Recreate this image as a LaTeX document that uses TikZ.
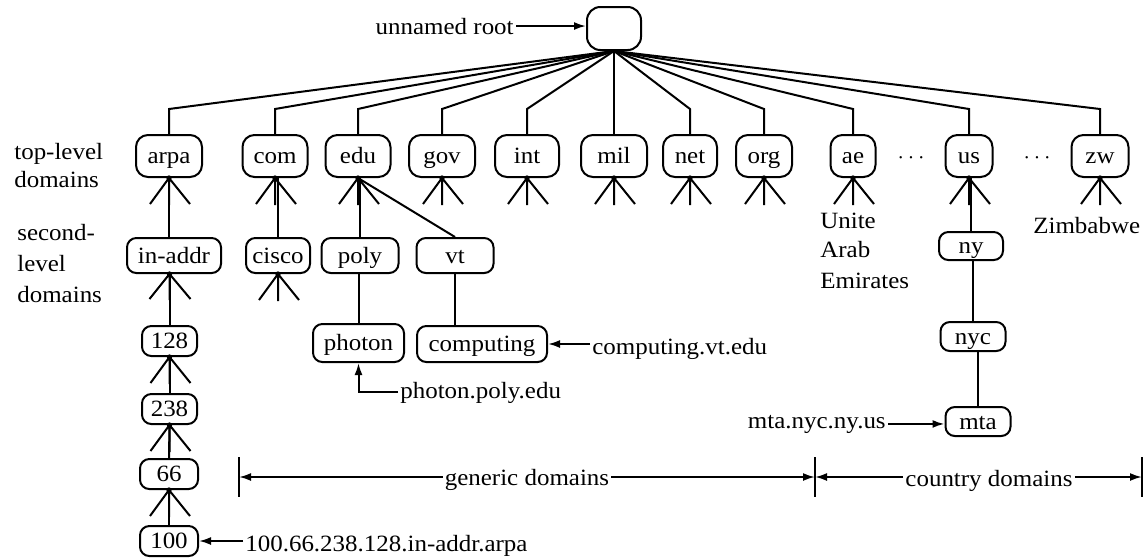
\documentclass[tikz,border=0pt]{standalone}
\usepackage{fontspec}
\setmainfont[FakeStretch=1.07]{Liberation Serif}
\usetikzlibrary{arrows.meta}
\begin{document}
\begin{tikzpicture}[x=0.75pt, y=-0.75pt,
  font=\fontsize{17.5}{21}\selectfont,
  line width=1.5pt,
  bw/.style={minimum width=#1*0.75pt},
  bh/.style={minimum height=#1*0.75pt},
  box/.style={draw, rounded corners=7pt, inner sep=0pt, text height=14.5pt, text depth=3pt},
  tl/.style={box, bh=42, rounded corners=9pt},
  sl/.style={box, bh=35},
  lbl/.style={inner sep=1pt},
  tip/.style={-{Latex[length=9pt,width=6pt]}}]
\useasboundingbox (0,0) rectangle (1146,558);

% root
\node[box, bw=54, bh=43, rounded corners=10pt] (root) at (614,28.5) {};

% top-level domains
\node[tl, bw=66] (arpa) at (169,156) {arpa};
\node[tl, bw=65] (com)  at (275,156) {com};
\node[tl, bw=65] (edu)  at (358,156) {edu};
\node[tl, bw=66] (gov)  at (442,156) {gov};
\node[tl, bw=64] (int)  at (527,156) {int};
\node[tl, bw=66] (mil)  at (614,156) {mil};
\node[tl, bw=54] (net)  at (690,156) {net};
\node[tl, bw=56] (org)  at (764,156) {org};
\node[tl, bw=45] (ae)   at (853,156) {ae};
\node[tl, bw=47] (us)   at (969,156) {us};
\node[tl, bw=57] (zw)   at (1100,156) {zw};

% second-level domains
\node[sl, bw=94] (inaddr) at (174,255.5) {in-addr};
\node[sl, bw=64] (cisco)  at (278,255.5) {cisco};
\node[sl, bw=77] (poly)   at (360,255.5) {poly};
\node[sl, bw=77] (vt)     at (455,255.5) {vt};

% deeper nodes
\node[box, bw=64, bh=28] (ny)  at (971,246) {ny};
\node[box, bw=65, bh=29] (nyc) at (973,336.5) {nyc};
\node[box, bw=65, bh=29] (mta) at (978,421.5) {mta};
\node[box, bw=91, bh=38] (photon)    at (358.5,343) {photon};
\node[box, bw=130, bh=36] (computing) at (482,344) {computing};
\node[box, bw=55, bh=30] (n128) at (169.5,341) {128};
\node[box, bw=55, bh=30] (n238) at (169.5,409) {238};
\node[box, bw=58, bh=30] (n66)  at (169,474) {66};
\node[box, bw=58, bh=30] (n100) at (169,541) {100};

% root connectors
\foreach \n in {arpa,com,edu,gov,int,net,org,ae,us,zw}
  \draw (root.south) -- (\n.north |- 0,109) -- (\n.north);
\draw (root.south) -- (mil.north);

% tree connectors
\draw (arpa.south) -- (arpa.south |- inaddr.north);
\draw (cisco.north) -- (cisco.north |- com.south);
\draw (poly.north) -- (poly.north |- edu.south);
\draw (edu.south) -- (vt.north);
\draw (photon.north) -- (photon.north |- poly.south);
\draw (vt.south) -- (vt.south |- computing.north);
\draw (ny.north) -- (ny.north |- us.south);
\draw (nyc.north) -- (nyc.north |- ny.south);
\draw (mta.north) -- (mta.north |- nyc.south);
\draw (n128.north) -- (n128.north |- inaddr.south);
\draw (n238.north) -- (n128.south);
\draw (n66.north) -- (n238.south);
\draw (n100.north) -- (n66.south);

% fans
\foreach \n in {arpa,com,edu,gov,int,mil,net,org,ae,us,zw,cisco,n128,n238,n66} {
  \draw (\n.south) -- ++(-19,26) (\n.south) -- ++(0,27) (\n.south) -- ++(21,26);
  \fill (\n.south) circle[radius=2pt];
}
\coordinate (fa) at (inaddr.south -| n128.north);
\draw (fa) -- ++(-20,25) (fa) -- ++(0,26) (fa) -- ++(21,25);
\fill (fa) circle[radius=2pt];

% dots
\node[lbl, anchor=base] (dots1) at (911,163) {$\cdots$};
\node[lbl, anchor=base] (dots2) at (1037,163) {$\cdots$};

% left labels
\node[lbl, anchor=base west] (t1) at (12,159) {top-level};
\node[lbl, anchor=base west] (t2) at (12,187) {domains};
\node[lbl, anchor=base west] (s1) at (15,240) {second-};
\node[lbl, anchor=base west] (s2) at (15,271) {level};
\node[lbl, anchor=base west] (s3) at (15,302) {domains};

% country names
\node[lbl, anchor=base west] (u1) at (818,228) {Unite};
\node[lbl, anchor=base west] (u2) at (818,257) {Arab};
\node[lbl, anchor=base west] (u3) at (818,288) {Emirates};
\node[lbl, anchor=base west] (zim) at (1031,233) {Zimbabwe};

% annotations
\node[lbl, anchor=base east] (ur) at (516,34) {unnamed root};
\draw[tip] (ur.east) -- (ur.east -| root.west);

\node[lbl, anchor=base west] (ia) at (243,551) {100.66.238.128.in-addr.arpa};
\draw[tip] (ia.west |- n100.east) -- (n100.east);

\node[lbl, anchor=base west] (cv) at (590,354) {computing.vt.edu};
\draw[tip] (cv.west |- computing.east) -- (computing.east);

\node[lbl, anchor=base west] (pp) at (398,398) {photon.poly.edu};
\draw[tip] (pp.west) -- (pp.west -| photon.south) -- (photon.south);

\node[lbl, anchor=base east] (mn) at (888,428) {mta.nyc.ny.us};
\draw[tip] (mn.east) -- (mn.east -| mta.west);

% domain ranges
\coordinate (gl) at (239,477);
\coordinate (gm) at (815,477);
\coordinate (gr) at (1142,477);
\draw (gl) ++(0,-20) -- ++(0,40);
\draw (gm) ++(0,-20) -- ++(0,40);
\draw (gr) ++(0,-20) -- ++(0,40);
\node[lbl, anchor=base] (gd) at (527,485) {generic domains};
\draw[tip] (gd.west |- gl) -- (gl);
\draw[tip] (gd.east |- gm) -- (gm);
\node[lbl, anchor=base] (cd) at (989,486) {country domains};
\draw[tip] (cd.west |- gm) -- (gm);
\draw[tip] (cd.east |- gr) -- (gr);
\end{tikzpicture}
\end{document}
